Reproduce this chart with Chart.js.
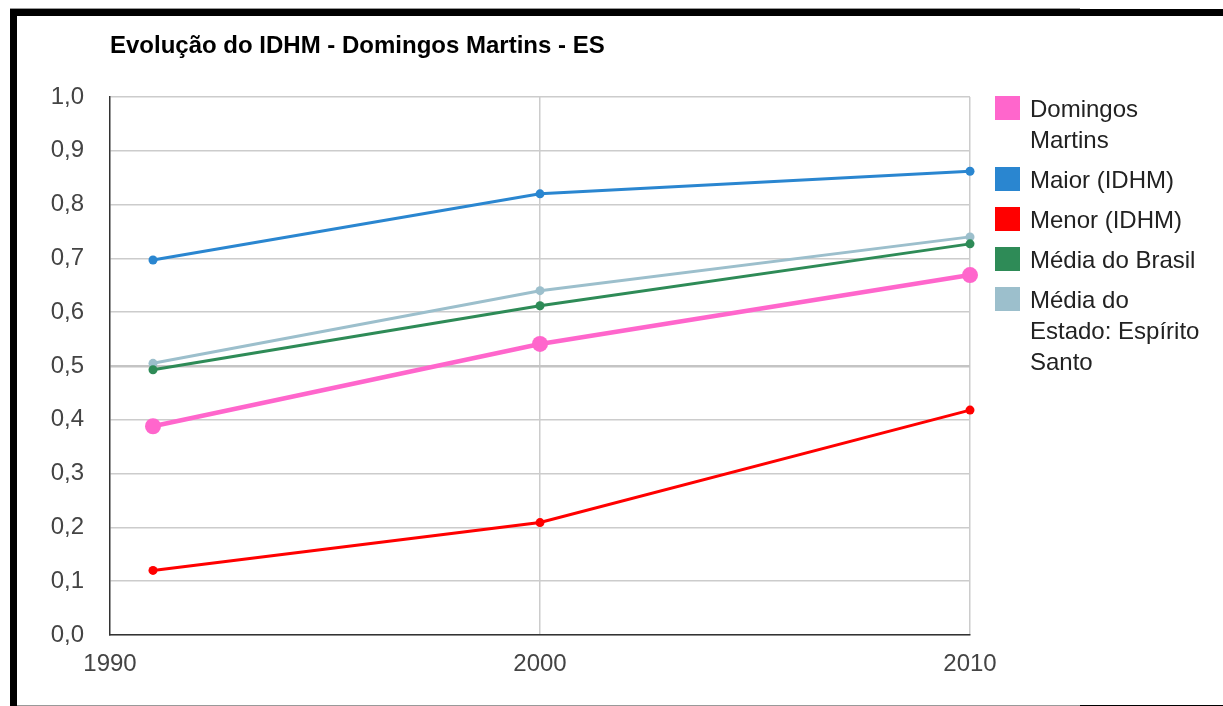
<!DOCTYPE html>
<html>
<head>
<meta charset="utf-8">
<script src="https://cdn.jsdelivr.net/npm/chart.js@4"></script>
<style>
  html, body { margin: 0; padding: 0; background: #fff; }
  body { width: 1223px; height: 706px; position: relative; overflow: hidden; font-family: Arial, "Liberation Sans", sans-serif; }
  #wrap { position: absolute; left: 0; top: 0; width: 1223px; height: 706px; }
  #title { position: absolute; left: 110px; top: 30px; font-weight: bold; font-size: 24px; line-height: 30px; color: #000; white-space: nowrap; }
  #legend { position: absolute; left: 995px; top: 93px; }
  .item { position: relative; margin-bottom: 9px; }
  .swatch { position: absolute; left: 0; top: 3px; width: 25px; height: 24px; }
  .txt { margin-left: 35px; font-size: 24px; line-height: 31px; color: #222; white-space: nowrap; }
  .bar { position: absolute; }
</style>
</head>
<body>
<div id="wrap"><canvas id="chart" width="1223" height="706"></canvas></div>
<div id="title"></div>
<div id="legend"></div>
<div class="bar" style="left:10px; top:8px; width:1070px; height:1px; background:#999;"></div>
<div class="bar" style="left:10px; top:9px; width:1213px; height:7px; background:#000;"></div>
<div class="bar" style="left:10px; top:9px; width:7px; height:697px; background:#000;"></div>
<div class="bar" style="left:17px; top:705px; width:1063px; height:1px; background:#999;"></div>
<div class="bar" style="left:1080px; top:705px; width:143px; height:1px; background:#000;"></div>
<script>
const chartTitle = 'Evolução do IDHM - Domingos Martins - ES';
const years = [1991, 2000, 2010];
const seriesNames = ['Domingos Martins', 'Maior (IDHM)', 'Menor (IDHM)', 'Média do Brasil', 'Média do Estado: Espírito Santo'];
const legendLines = [['Domingos', 'Martins'], ['Maior (IDHM)'], ['Menor (IDHM)'], ['Média do Brasil'], ['Média do', 'Estado: Espírito', 'Santo']];
const seriesColors = ['#ff66cc', '#2a86d0', '#ff0000', '#2e8b57', '#9cbfcc'];

const domingosMartins = [0.388, 0.541, 0.669];
const maiorIdhm = [0.697, 0.820, 0.862];
const menorIdhm = [0.120, 0.209, 0.418];
const mediaBrasil = [0.493, 0.612, 0.727];
const mediaEstado = [0.505, 0.640, 0.740];
const seriesValues = [domingosMartins, maiorIdhm, menorIdhm, mediaBrasil, mediaEstado];

const xTicks = [1990, 2000, 2010];
const yTicks = [0, 0.1, 0.2, 0.3, 0.4, 0.5, 0.6, 0.7, 0.8, 0.9, 1.0];

document.getElementById('title').textContent = chartTitle;

// HTML legend with the wrapped lines of the original
const legendDiv = document.getElementById('legend');
legendLines.forEach((lines, i) => {
    const item = document.createElement('div');
    item.className = 'item';
    item.innerHTML = `<div class="swatch" style="background:${seriesColors[i]}"></div>
        <div class="txt">${lines.join('<br>')}</div>`;
    legendDiv.appendChild(item);
});

const datasets = seriesNames.map((name, i) => {
    const main = i === 0;
    return {
        label: name,
        data: years.map((y, k) => ({ x: y, y: seriesValues[i][k] })),
        borderColor: seriesColors[i],
        backgroundColor: seriesColors[i],
        borderWidth: main ? 4.5 : 3,
        pointRadius: main ? 8 : 4.5,
        pointHoverRadius: main ? 8 : 4.5,
        pointBorderWidth: 0,
        tension: 0,
        clip: false
    };
});

new Chart(document.getElementById('chart'), {
    type: 'line',
    data: { datasets: datasets },
    options: {
        responsive: false,
        animation: false,
        layout: { padding: { left: 0, top: 97, right: 253, bottom: 0 } },
        plugins: {
            legend: { display: false },
            title: { display: false },
            tooltip: { enabled: false }
        },
        scales: {
            x: {
                type: 'linear',
                min: 1990,
                max: 2010,
                afterBuildTicks: (axis) => { axis.ticks = xTicks.map(v => ({ value: v })); },
                afterFit: (axis) => { axis.height = 71; },
                border: { display: true, color: '#333', width: 1.5 },
                grid: {
                    drawTicks: false,
                    color: (ctx) => ctx.tick && ctx.tick.value === 1990 ? 'rgba(0,0,0,0)' : '#cccccc',
                    lineWidth: 1.5
                },
                ticks: {
                    padding: 15,
                    color: '#444',
                    font: { family: 'Arial, "Liberation Sans"', size: 24 },
                    callback: (v) => String(v)
                }
            },
            y: {
                min: 0,
                max: 1,
                afterBuildTicks: (axis) => { axis.ticks = yTicks.map(v => ({ value: v })); },
                afterFit: (axis) => { axis.width = 110; },
                border: { display: true, color: '#333', width: 1.5 },
                grid: {
                    drawTicks: false,
                    color: (ctx) => ctx.tick && Math.abs(ctx.tick.value - 0.5) < 1e-6 ? '#c4c4c4' : '#cccccc',
                    lineWidth: (ctx) => ctx.tick && Math.abs(ctx.tick.value - 0.5) < 1e-6 ? 2.5 : 1.5
                },
                ticks: {
                    padding: 26,
                    color: '#444',
                    font: { family: 'Arial, "Liberation Sans"', size: 24 },
                    callback: (v) => Number(v).toFixed(1).replace('.', ',')
                }
            }
        }
    }
});
</script>
</body>
</html>
